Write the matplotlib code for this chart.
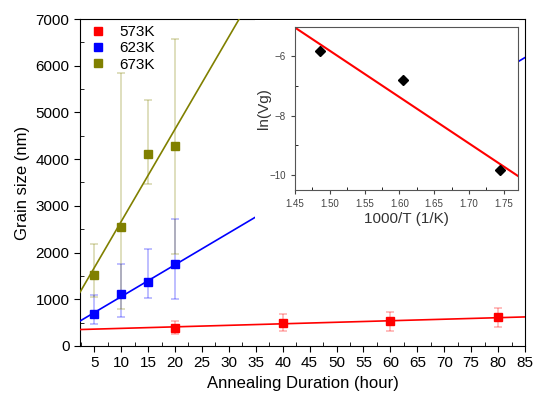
import matplotlib
matplotlib.use("Agg")
import matplotlib.pyplot as plt
import numpy as np
from matplotlib.patches import Rectangle
from matplotlib.ticker import MultipleLocator

plt.rcParams['font.family'] = ['Liberation Sans', 'DejaVu Sans']

# grain size data (nm) vs annealing duration (hour)
labels = ['573K', '623K', '673K']
colors = ['#ff0000', '#0000ff', '#808000']

t_573 = [20, 40, 60, 80]
g_573 = [385, 480, 535, 610]
lo_573 = [130, 160, 220, 210]
hi_573 = [150, 210, 200, 210]

t_623 = [5, 10, 15, 20]
g_623 = [685, 1115, 1365, 1745]
lo_623 = [220, 500, 345, 740]
hi_623 = [410, 640, 705, 980]

t_673 = [5, 10, 15, 20]
g_673 = [1520, 2545, 4120, 4285]
lo_673 = [470, 1745, 650, 2320]
hi_673 = [665, 3290, 1155, 2290]

# linear fits: (slope, intercept)
fit_573 = (3.27, 342)
fit_623 = (68.3, 371)
fit_673 = (198, 682)

# inset: ln(Vg) vs 1000/T
inv_T = [1000 / 673, 1000 / 623, 1000 / 573]
ln_vg = [-5.82, -6.78, -9.82]
fit_inset = (-15.6, 17.59)

fig = plt.figure(figsize=(5.33, 3.98), dpi=100)
ax = fig.add_axes([0.150, 0.131, 0.835, 0.821])

series = [(t_573, g_573, lo_573, hi_573, fit_573),
          (t_623, g_623, lo_623, hi_623, fit_623),
          (t_673, g_673, lo_673, hi_673, fit_673)]

x_fit = np.array([2.35, 85])
for (t, g, lo, hi, fit), c, lab in zip(series, colors, labels):
    ax.errorbar(t, g, yerr=[lo, hi], fmt='none', ecolor=c, alpha=0.3,
                elinewidth=1.2, capsize=3, capthick=1.2, zorder=2)
    ax.plot(x_fit, fit[0] * x_fit + fit[1], '-', color=c, lw=1.2, zorder=3)
    ax.plot(t, g, 's', color=c, ms=6, label=lab, zorder=4)

ax.set_xlim(2.35, 85)
ax.set_ylim(0, 7000)
ax.xaxis.set_major_locator(MultipleLocator(5))
ax.xaxis.set_minor_locator(MultipleLocator(2.5))
ax.yaxis.set_major_locator(MultipleLocator(1000))
ax.yaxis.set_minor_locator(MultipleLocator(500))
ax.tick_params(which='major', direction='out', length=4, labelsize=11)
ax.tick_params(which='minor', direction='in', length=3)
ax.set_xlabel('Annealing Duration (hour)', fontsize=12)
ax.set_ylabel('Grain size (nm)', fontsize=12)
ax.legend(loc='upper left', frameon=False, fontsize=11, handletextpad=0.8,
          borderaxespad=0.2, labelspacing=0.15, handlelength=1.2,
          bbox_to_anchor=(0.0, 1.01))

# white backing of the inset picture
fig.patches.append(Rectangle((0.478, 0.417), 0.496, 0.533,
                             transform=fig.transFigure, facecolor='white',
                             edgecolor='none', zorder=5))

ins = fig.add_axes([0.5535, 0.5226, 0.4178, 0.4103], zorder=6)
x_in = np.array([1.45, 1.77])
ins.plot(x_in, fit_inset[0] * x_in + fit_inset[1], '-', color='#ff0000', lw=1.5)
ins.plot(inv_T, ln_vg, 'D', color='black', ms=5)
ins.set_xlim(1.45, 1.77)
ins.set_ylim(-10.5, -5)
ins.xaxis.set_major_locator(MultipleLocator(0.05))
ins.xaxis.set_minor_locator(MultipleLocator(0.025))
ins.yaxis.set_major_locator(MultipleLocator(2))
ins.yaxis.set_minor_locator(MultipleLocator(1))
ins.tick_params(which='major', direction='out', length=3, labelsize=7,
                colors='#444444')
ins.tick_params(which='minor', direction='in', length=2)
for s in ins.spines.values():
    s.set_color('#555555')
ins.set_xlabel('1000/T (1/K)', fontsize=11, color='#333333', labelpad=2)
ins.set_ylabel('ln(Vg)', fontsize=11, color='#333333', labelpad=-1)

fig.savefig('out.png', dpi=100)
